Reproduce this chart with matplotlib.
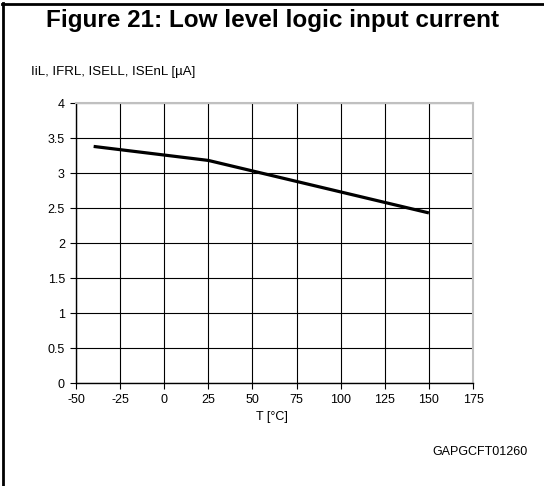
import numpy as np
import matplotlib.pyplot as plt
from matplotlib.lines import Line2D

# Данные
temp = [-40, 25, 150]
current = [3.38, 3.18, 2.43]
x_ticks = [-50, -25, 0, 25, 50, 75, 100, 125, 150, 175]
y_ticks = [0, 0.5, 1, 1.5, 2, 2.5, 3, 3.5, 4]
y_tick_labels = ['0', '0.5', '1', '1.5', '2', '2.5', '3', '3.5', '4']

plt.rcParams['font.family'] = ['Liberation Sans', 'DejaVu Sans']
plt.rcParams['axes.unicode_minus'] = False

fig = plt.figure(figsize=(5.44, 4.86), dpi=100)
ax = fig.add_axes([0.1397, 0.2119, 0.7298, 0.5761])

# Сетка
ax.set_xlim(-50, 175)
ax.set_ylim(0, 4)
ax.set_xticks(x_ticks)
ax.set_yticks(y_ticks)
ax.set_yticklabels(y_tick_labels)
ax.grid(True, color='black', lw=0.8)
ax.set_axisbelow(True)

ax.plot(temp, current, color='black', lw=2.3, solid_capstyle='butt', zorder=3)

for side in ['top', 'right']:
    ax.spines[side].set_color('#c0c0c0')
    ax.spines[side].set_linewidth(1.5)
for side in ['left', 'bottom']:
    ax.spines[side].set_color('black')
    ax.spines[side].set_linewidth(1.0)
ax.tick_params(length=4, width=0.8, pad=4, labelsize=9, colors='black')

# Подписи
fig.text(0.5, 0.958, 'Figure 21: Low level logic input current', ha='center', va='center',
         fontsize=17.5, fontweight='bold')
fig.text(0.057, 0.852, 'IiL, IFRL, ISELL, ISEnL [µA]', ha='left', va='center', fontsize=9.5)
fig.text(0.5, 0.142, 'T [°C]', ha='center', va='center', fontsize=9)
fig.text(0.969, 0.070, 'GAPGCFT01260', ha='right', va='center', fontsize=9)

# Рамка (слева и сверху)
fig.add_artist(Line2D([0.006, 0.006], [0, 0.993], transform=fig.transFigure, color='black', lw=2))
fig.add_artist(Line2D([0.004, 1.0], [0.992, 0.992], transform=fig.transFigure, color='black', lw=2))

plt.savefig('out.png', dpi=100)
